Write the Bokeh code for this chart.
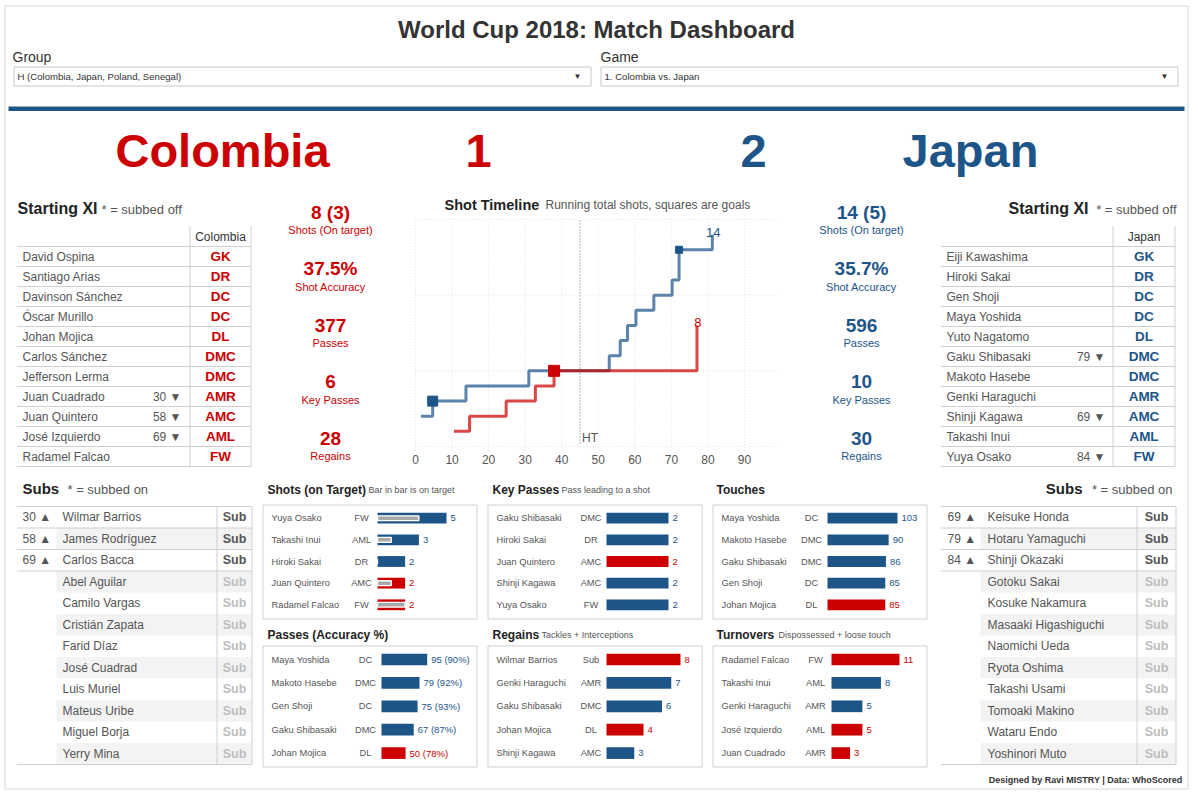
from bokeh.plotting import figure
from bokeh.models import Range1d
from bokeh.core.properties import value
from bokeh.embed import file_html
from bokeh.resources import INLINE

# ------------------------------------------------------------------ data
title = "World Cup 2018: Match Dashboard"
group_choice = "H (Colombia, Japan, Poland, Senegal)"
game_choice = "1. Colombia vs. Japan"
teams = ["Colombia", "Japan"]
score = ["1", "2"]

col_xi_names = ["David Ospina", "Santiago Arias", "Davinson Sánchez", "Óscar Murillo", "Johan Mojica",
                "Carlos Sánchez", "Jefferson Lerma", "Juan Cuadrado", "Juan Quintero", "José Izquierdo",
                "Radamel Falcao"]
col_xi_pos = ["GK", "DR", "DC", "DC", "DL", "DMC", "DMC", "AMR", "AMC", "AML", "FW"]
col_xi_off = ["", "", "", "", "", "", "", "30 ▼", "58 ▼", "69 ▼", ""]

jpn_xi_names = ["Eiji Kawashima", "Hiroki Sakai", "Gen Shoji", "Maya Yoshida", "Yuto Nagatomo",
                "Gaku Shibasaki", "Makoto Hasebe", "Genki Haraguchi", "Shinji Kagawa", "Takashi Inui",
                "Yuya Osako"]
jpn_xi_pos = ["GK", "DR", "DC", "DC", "DL", "DMC", "DMC", "AMR", "AMC", "AML", "FW"]
jpn_xi_off = ["", "", "", "", "", "79 ▼", "", "", "69 ▼", "", "84 ▼"]

col_subs = ["Wilmar Barrios", "James Rodríguez", "Carlos Bacca", "Abel Aguilar", "Camilo Vargas",
            "Cristián Zapata", "Farid Díaz", "José Cuadrad", "Luis Muriel", "Mateus Uribe",
            "Miguel Borja", "Yerry Mina"]
col_subs_on = ["30 ▲", "58 ▲", "69 ▲", "", "", "", "", "", "", "", "", ""]
jpn_subs = ["Keisuke Honda", "Hotaru Yamaguchi", "Shinji Okazaki", "Gotoku Sakai", "Kosuke Nakamura",
            "Masaaki Higashiguchi", "Naomichi Ueda", "Ryota Oshima", "Takashi Usami", "Tomoaki Makino",
            "Wataru Endo", "Yoshinori Muto"]
jpn_subs_on = ["69 ▲", "79 ▲", "84 ▲", "", "", "", "", "", "", "", "", ""]

stat_labels = ["Shots (On target)", "Shot Accuracy", "Passes", "Key Passes", "Regains"]
col_stats = ["8 (3)", "37.5%", "377", "6", "28"]
jpn_stats = ["14 (5)", "35.7%", "596", "10", "30"]

# shot timeline: minute of shot, running total
col_shot_min = [10.5, 14.8, 24.8, 32.8, 37.9, 77.0]
col_shot_total = [1, 2, 3, 4, 5, 8]
jpn_shot_min = [1.5, 4.7, 13.8, 31.0, 53.0, 56.0, 58.0, 60.3, 65.2, 70.2, 72.1, 81.2]
jpn_shot_total = [2, 3, 4, 5, 6, 7, 8, 9, 10, 11, 13, 14]
col_goal_min = [37.9]
col_goal_total = [5]
jpn_goal_min = [4.7, 72.1]
jpn_goal_total = [3, 13]
minute_ticks = [0, 10, 20, 30, 40, 50, 60, 70, 80, 90]
total_grid = [0, 5, 10, 15]
half_time = 45

shots_names = ["Yuya Osako", "Takashi Inui", "Hiroki Sakai", "Juan Quintero", "Radamel Falcao"]
shots_pos = ["FW", "AML", "DR", "AMC", "FW"]
shots_team = ["Japan", "Japan", "Japan", "Colombia", "Colombia"]
shots_total = [5, 3, 2, 2, 2]
shots_on = [3, 1, 0, 1, 2]

keyp_names = ["Gaku Shibasaki", "Hiroki Sakai", "Juan Quintero", "Shinji Kagawa", "Yuya Osako"]
keyp_pos = ["DMC", "DR", "AMC", "AMC", "FW"]
keyp_team = ["Japan", "Japan", "Colombia", "Japan", "Japan"]
keyp_vals = [2, 2, 2, 2, 2]

touch_names = ["Maya Yoshida", "Makoto Hasebe", "Gaku Shibasaki", "Gen Shoji", "Johan Mojica"]
touch_pos = ["DC", "DMC", "DMC", "DC", "DL"]
touch_team = ["Japan", "Japan", "Japan", "Japan", "Colombia"]
touch_vals = [103, 90, 86, 85, 85]

pass_names = ["Maya Yoshida", "Makoto Hasebe", "Gen Shoji", "Gaku Shibasaki", "Johan Mojica"]
pass_pos = ["DC", "DMC", "DC", "DMC", "DL"]
pass_team = ["Japan", "Japan", "Japan", "Japan", "Colombia"]
pass_vals = [95, 79, 75, 67, 50]
pass_acc = [90, 92, 93, 87, 78]

regain_names = ["Wilmar Barrios", "Genki Haraguchi", "Gaku Shibasaki", "Johan Mojica", "Shinji Kagawa"]
regain_pos = ["Sub", "AMR", "DMC", "DL", "AMC"]
regain_team = ["Colombia", "Japan", "Japan", "Colombia", "Japan"]
regain_vals = [8, 7, 6, 4, 3]

turn_names = ["Radamel Falcao", "Takashi Inui", "Genki Haraguchi", "José Izquierdo", "Juan Cuadrado"]
turn_pos = ["FW", "AML", "AMR", "AML", "AMR"]
turn_team = ["Colombia", "Japan", "Japan", "Colombia", "Colombia"]
turn_vals = [11, 8, 5, 5, 3]

footer = "Designed by Ravi MISTRY | Data: WhoScored"

# ------------------------------------------------------------------ style
RED, BLUE = "#cc0000", "#1d5589"
TEAM_COLOR = {"Colombia": RED, "Japan": BLUE}
GREY, DARK, LINE = "#555555", "#222222", "#cfcfcf"
FONT = value("Liberation Sans")

W, H = 1192, 794
p = figure(width=W, height=H, x_range=Range1d(0, W), y_range=Range1d(H, 0),
           output_backend="svg", toolbar_location=None, min_border=0,
           x_axis_type=None, y_axis_type=None)
p.grid.visible = False
p.outline_line_color = None


def txt(g, x, y, s, size, color=GREY, align="left", bold=False, baseline="middle", **kw):
    s = s if isinstance(s, list) else [s]
    n = len(s)
    x = x if isinstance(x, list) else [x] * n
    y = y if isinstance(y, list) else [y] * n
    g.text(x=x, y=y, text=s, text_font=FONT, text_font_size=f"{size}px", text_color=color,
           text_align=align, text_baseline=baseline,
           text_font_style="bold" if bold else "normal", **kw)


def rows_map(first_center, step, n):
    return p.subplot(x_source=p.x_range, x_target=p.x_range,
                     y_source=Range1d(0, n - 1),
                     y_target=Range1d(first_center, first_center + step * (n - 1)))


# frame, header, dropdowns
p.quad(left=4.5, right=1187.5, top=5.5, bottom=788.5, fill_color=None, line_color="#d6d6d6")
txt(p, 596, 28.5, title, 24, "#333333", "center", True)
txt(p, 12, 56, "Group", 14, "#333333")
txt(p, 600, 56, "Game", 14, "#333333")
p.quad(left=[13.5, 600.5], right=[590.5, 1177.5], top=[66.5, 66.5], bottom=[85.5, 85.5],
       fill_color="white", line_color="#c8c8c8")
txt(p, [17, 604], 76, [group_choice, game_choice], 9.6, "#333333")
txt(p, [577, 1164], 75.5, ["▼", "▼"], 8, "#333333", "center")
p.quad(left=8, right=1184, top=106, bottom=110.5, fill_color=BLUE, line_color=None)

# score line
txt(p, [222, 478, 753, 970], 150, [teams[0], score[0], score[1], teams[1]], 47,
    [RED, RED, BLUE, BLUE], "center", True)

# stats columns
idx5 = list(range(len(stat_labels)))
srows = rows_map(211.5, 56.5, len(stat_labels))
txt(srows, 330, idx5, col_stats, 19, RED, "center", True)
txt(srows, 330, idx5, stat_labels, 11, RED, "center", y_offset=18)
txt(srows, 861, idx5, jpn_stats, 19, BLUE, "center", True)
txt(srows, 861, idx5, stat_labels, 11, BLUE, "center", y_offset=18)


# starting XI tables
def starting_xi(names, pos, off, team, x_left, x_div, x_right, name_x, off_x):
    n = len(names)
    idx = list(range(n))
    rows = rows_map(256, 20, n)
    bounds = [i - 0.5 for i in range(n + 1)]
    rows.segment(x0=x_left, x1=x_right, y0=bounds, y1=bounds, line_color=LINE, line_width=1)
    rows.segment(x0=[x_div, x_right], x1=[x_div, x_right], y0=-1.5, y1=n - 0.5,
                 line_color=LINE, line_width=1)
    cx = (x_div + x_right) / 2
    txt(rows, cx, -1, team, 12, "#333333", "center")
    txt(rows, name_x, idx, names, 12, GREY)
    txt(rows, off_x, idx, off, 12, GREY, "right")
    txt(rows, cx, idx, pos, 13.5, TEAM_COLOR[team], "center", True)


txt(p, 17, 208, "Starting XI", 16, DARK, bold=True)
txt(p, 101, 208.5, "* = subbed off", 13, GREY)
starting_xi(col_xi_names, col_xi_pos, col_xi_off, "Colombia", 16.5, 189.5, 250.5, 22, 181)
txt(p, 1088, 208, "Starting XI", 16, DARK, "right", True)
txt(p, 1176, 208.5, "* = subbed off", 13, GREY, "right")
starting_xi(jpn_xi_names, jpn_xi_pos, jpn_xi_off, "Japan", 940.5, 1112.5, 1174.5, 946, 1105)


# subs tables
def subs_table(names, on, x_left, x_shade, x_div, x_right, min_x, name_x):
    n = len(names)
    idx = list(range(n))
    rows = rows_map(516.75, 21.5, n)
    used = [i for i in idx if on[i]]
    shaded = [i for i in idx if i % 2 == 1]
    rows.hbar(y=shaded, left=x_shade, right=x_right, height=1, fill_color="#f3f3f3", line_color=None)
    bounds = [-0.5] + [i + 0.5 for i in used] + [n - 0.5]
    rows.segment(x0=x_left, x1=x_right, y0=bounds, y1=bounds, line_color=LINE, line_width=1)
    rows.segment(x0=[x_div, x_right], x1=[x_div, x_right], y0=-0.5, y1=n - 0.5,
                 line_color=LINE, line_width=1)
    txt(rows, min_x, idx, on, 12, GREY)
    txt(rows, name_x, idx, names, 12, GREY)
    txt(rows, (x_div + x_right) / 2, idx, ["Sub"] * n, 12.5,
        [GREY if on[i] else "#bdbdbd" for i in idx], "center", True)


txt(p, 22, 488, "Subs", 15, DARK, bold=True)
txt(p, 67, 488.5, "* = subbed on", 13, GREY)
subs_table(col_subs, col_subs_on, 16.5, 56, 216.5, 251.5, 22, 62)
txt(p, 1082, 488, "Subs", 15, DARK, "right", True)
txt(p, 1172, 488.5, "* = subbed on", 13, GREY, "right")
subs_table(jpn_subs, jpn_subs_on, 940.5, 980, 1136.5, 1175.5, 947, 987)

# shot timeline
txt(p, 444, 204, "Shot Timeline", 14.5, DARK, bold=True)
txt(p, 545, 204.5, "Running total shots, squares are goals", 12, GREY)
tl = p.subplot(x_source=Range1d(0, 90), y_source=Range1d(0, 15),
               x_target=Range1d(415, 744), y_target=Range1d(446, 219))
tl.segment(x0=minute_ticks, x1=minute_ticks, y0=-0.3, y1=15, line_color="#e2e2e2",
           line_width=1, line_dash="1 2")
tl.segment(x0=0, x1=99, y0=total_grid, y1=total_grid, line_color="#e2e2e2",
           line_width=1, line_dash="1 2")
tl.segment(x0=[half_time], x1=[half_time], y0=0.2, y1=15, line_color="#666666",
           line_width=1, line_dash="1 2")
txt(tl, half_time, 0, "HT", 12, GREY, y_offset=-9, x_offset=2)
txt(tl, minute_ticks, 0, [str(m) for m in minute_ticks], 12, GREY, "center", y_offset=13)
tl.step(x=jpn_shot_min, y=jpn_shot_total, mode="after", line_color=BLUE, line_width=3, line_alpha=0.72)
tl.step(x=col_shot_min, y=col_shot_total, mode="after", line_color=RED, line_width=3, line_alpha=0.72)
tl.scatter(x=col_goal_min, y=col_goal_total, marker="square", size=11, fill_color=RED, line_color=RED)
tl.scatter(x=jpn_goal_min, y=jpn_goal_total, marker="square", size=[10, 7],
           fill_color=BLUE, line_color=BLUE)
txt(tl, [col_shot_min[-1], jpn_shot_min[-1]], [col_shot_total[-1], jpn_shot_total[-1]],
    [str(col_shot_total[-1]), str(jpn_shot_total[-1])], 13, [RED, BLUE], "center",
    baseline="bottom", y_offset=2, x_offset=1)

# bar panels
panels = [
    dict(t="Shots (on Target)", s="Bar in bar is on target", names=shots_names, pos=shots_pos,
         team=shots_team, vals=shots_total, labels=[str(v) for v in shots_total],
         box=(262.5, 476.5, 504.5, 618.5), tx=267, sx=368, ty=489, nx=271, px=361, bx=377,
         bpx=69, r0=517.7, st=21.65),
    dict(t="Key Passes", s="Pass leading to a shot", names=keyp_names, pos=keyp_pos,
         team=keyp_team, vals=keyp_vals, labels=[str(v) for v in keyp_vals],
         box=(487.5, 701.5, 504.5, 618.5), tx=492, sx=561, ty=489, nx=496, px=590.5, bx=606,
         bpx=62, r0=517.7, st=21.65),
    dict(t="Touches", s="", names=touch_names, pos=touch_pos,
         team=touch_team, vals=touch_vals, labels=[str(v) for v in touch_vals],
         box=(712.5, 926.5, 504.5, 618.5), tx=716, sx=780, ty=489, nx=721, px=811, bx=827,
         bpx=70, r0=517.7, st=21.65),
    dict(t="Passes (Accuracy %)", s="", names=pass_names, pos=pass_pos,
         team=pass_team, vals=pass_vals,
         labels=[f"{v} ({a}%)" for v, a in zip(pass_vals, pass_acc)],
         box=(262.5, 476.5, 645.5, 766.5), tx=267, sx=400, ty=634, nx=271, px=365, bx=381,
         bpx=45.7, r0=659, st=23.4),
    dict(t="Regains", s="Tackles + Interceptions", names=regain_names, pos=regain_pos,
         team=regain_team, vals=regain_vals, labels=[str(v) for v in regain_vals],
         box=(487.5, 701.5, 645.5, 766.5), tx=492, sx=541, ty=634, nx=496, px=590.5, bx=606,
         bpx=74, r0=659, st=23.4),
    dict(t="Turnovers", s="Dispossessed + loose touch", names=turn_names, pos=turn_pos,
         team=turn_team, vals=turn_vals, labels=[str(v) for v in turn_vals],
         box=(712.5, 926.5, 645.5, 766.5), tx=716, sx=778, ty=634, nx=721, px=815, bx=831,
         bpx=68, r0=659, st=23.4),
]

for i, c in enumerate(panels):
    l, r, t, b = c["box"]
    p.quad(left=l, right=r, top=t, bottom=b, fill_color="white", line_color="#d0d0d0")
    txt(p, c["tx"], c["ty"], c["t"], 12, DARK, bold=True)
    if c["s"]:
        txt(p, c["sx"], c["ty"] + 0.5, c["s"], 9, GREY)
    n = len(c["names"])
    idx = list(range(n))
    rows = rows_map(c["r0"], c["st"], n)
    txt(rows, c["nx"], idx, c["names"], 9.3, GREY)
    txt(rows, c["px"], idx, c["pos"], 9.3, GREY, "center")
    sub = p.subplot(x_source=Range1d(0, max(c["vals"])), y_source=Range1d(0, n - 1),
                    x_target=Range1d(c["bx"], c["bx"] + c["bpx"]),
                    y_target=Range1d(c["r0"], c["r0"] + c["st"] * (n - 1)))
    colors = [TEAM_COLOR[tm] for tm in c["team"]]
    sub.hbar(y=idx, left=0, right=c["vals"], height=0.5, fill_color=colors, line_color=None)
    if i == 0:
        sub.hbar(y=idx, left=0, right=shots_on, height=0.22, fill_color="#a9a9a9",
                 line_color="white", line_width=1.3)
    txt(sub, c["vals"], idx, c["labels"], 9.5, colors, x_offset=4)

txt(p, 1182, 779, footer, 9, "#333333", "right", True)

open("out.html", "w").write(file_html(p, INLINE))
